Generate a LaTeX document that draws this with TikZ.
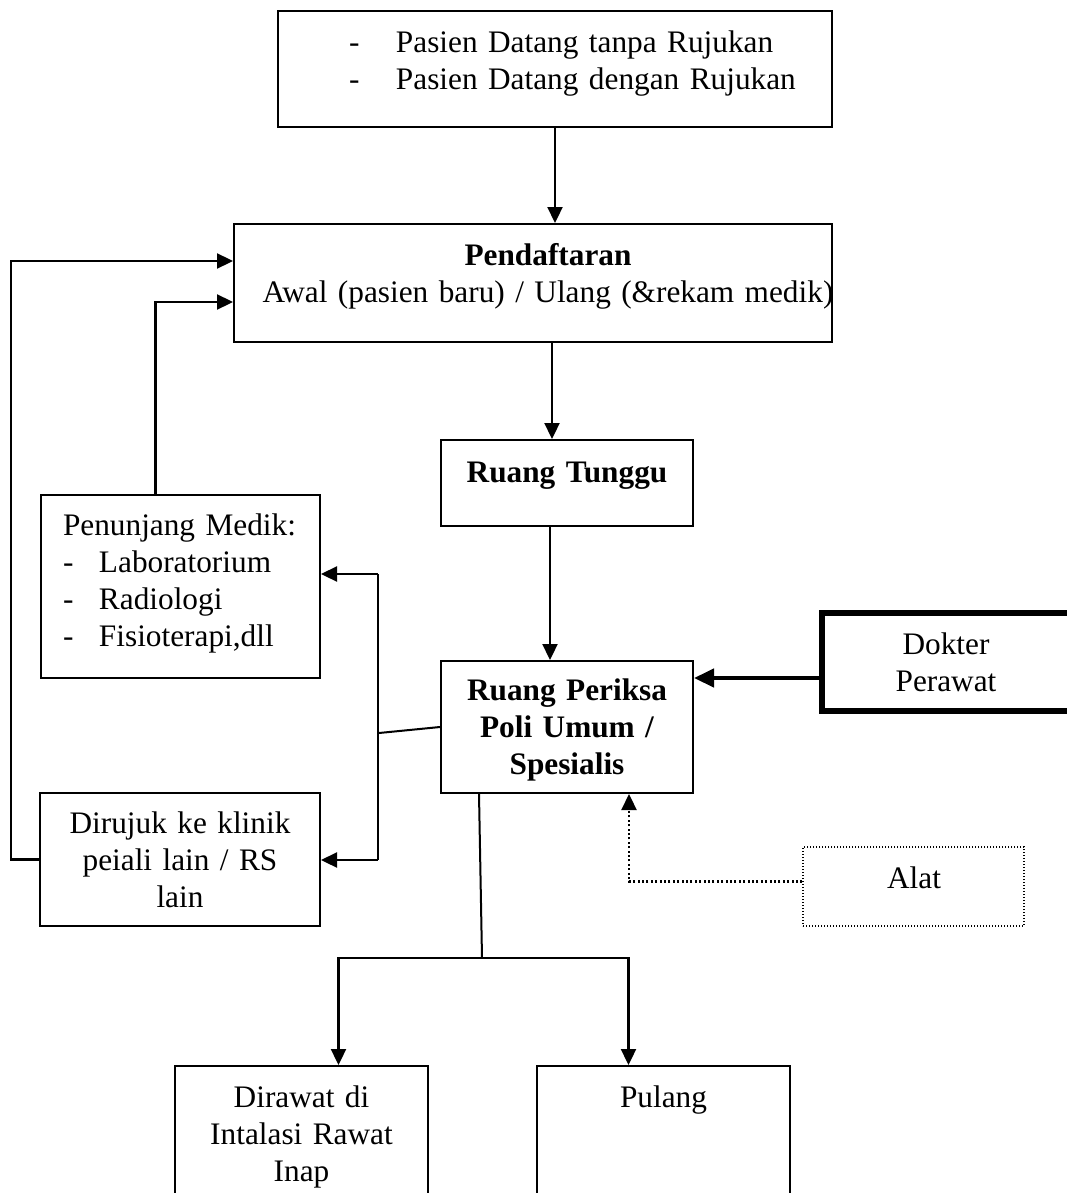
\documentclass[tikz,border=0pt]{standalone}
\usepackage{fontspec}
\setmainfont{Liberation Serif}
\usetikzlibrary{arrows.meta}

\begin{document}
\begin{tikzpicture}[x=1pt, y=-1pt, line width=2pt,
    font=\fontsize{31.3}{37}\selectfont,
    box/.style = {draw, rectangle, inner sep=0pt},
    txt/.style = {inner sep=0pt, text width=620pt, align=center, anchor=base},
    list/.style = {inner sep=0pt, text width=460pt, align=left, anchor=base west},
    arr/.style = {line width=2.3pt, -{Triangle[length=16pt, width=15pt]}},
    dot/.style = {dash pattern=on 2pt off 2.4pt}]

    \useasboundingbox (0,0) rectangle (1067,1193);
    \clip (0,0) rectangle (1067,1193);

    % kotak
    \node at (555, 69) [box, minimum width=554pt, minimum height=116pt] (datang) {};
    \node at (533, 283) [box, minimum width=598pt, minimum height=118pt] (daftar) {};
    \node at (567, 483) [box, minimum width=252pt, minimum height=86pt] (tunggu) {};
    \node at (567, 727) [box, minimum width=252pt, minimum height=132pt] (periksa) {};
    \node at (961, 662) [box, line width=6pt, minimum width=278pt, minimum height=98pt] (dokter) {};
    \node at (913.5, 886.5) [box, line width=1.2pt, dash pattern=on 1.2pt off 1.8pt, minimum width=221pt, minimum height=79pt] (alat) {};
    \node at (180.5, 586.5) [box, minimum width=279pt, minimum height=183pt] (penunjang) {};
    \node at (180, 859.5) [box, minimum width=280pt, minimum height=133pt] (rujuk) {};
    \node at (301.5, 1166) [box, minimum width=253pt, minimum height=200pt] (rawat) {};
    \node at (663.5, 1166) [box, minimum width=253pt, minimum height=200pt] (pulang) {};

    % teks
    \node at (348, 53) [list] (datangtxt) {\makebox[47pt][l]{-}Pasien Datang tanpa Rujukan\\ \makebox[47pt][l]{-}Pasien Datang dengan Rujukan};
    \node at (548, 265) [txt] (daftartxt) {\textbf{Pendaftaran}\\ Awal (pasien baru) / Ulang (\&rekam medik)};
    \node at (567, 482) [txt] (tunggutxt) {\textbf{Ruang Tunggu}};
    \node at (567, 700) [txt, font=\fontsize{31.3}{37}\selectfont\bfseries] (periksatxt) {Ruang Periksa\\ Poli Umum /\\ Spesialis};
    \node at (946, 654) [txt] (doktertxt) {Dokter\\ Perawat};
    \node at (914, 888) [txt] (alattxt) {Alat};
    \node at (62, 535) [list] (penunjangtxt) {Penunjang Medik:\\ \makebox[36pt][l]{-}Laboratorium\\ \makebox[36pt][l]{-}Radiologi\\ \makebox[36pt][l]{-}Fisioterapi,dll};
    \node at (180, 833) [txt] (rujuktxt) {Dirujuk ke klinik\\ peiali lain / RS\\ lain};
    \node at (301.5, 1107) [txt] (rawattxt) {Dirawat di\\ Intalasi Rawat\\ Inap};
    \node at (663.5, 1107) [txt] (pulangtxt) {Pulang};

    % alur utama
    \draw[arr] (datang.south) -- (datang.south |- daftar.north);
    \draw[arr] ([xshift=19pt]daftar.south) -- ([xshift=19pt]daftar.south |- tunggu.north);
    \draw[arr] ([xshift=-17pt]tunggu.south) -- ([xshift=-17pt]tunggu.south |- periksa.north);
    \draw[-{Triangle[length=20pt, width=18pt]}, line width=4.5pt] ([yshift=-16pt]dokter.west) -- ([yshift=-16pt]dokter.west -| periksa.east);
    \draw[arr, dot] ([yshift=5pt]alat.west) -| ([xshift=62pt]periksa.south);

    % rujukan ke kiri
    \coordinate (split) at (379, 733);
    \coordinate (brtop) at (378, 574);
    \coordinate (brbot) at (378, 860);
    \draw (periksa.west) -- (split);
    \draw (brtop) -- (brbot);
    \draw[arr] (brtop) -- (brtop -| penunjang.east);
    \draw[arr] (brbot) -- (brbot -| rujuk.east);
    \draw[arr] ([xshift=-25pt]penunjang.north) |- ([yshift=-19pt]daftar.west);
    \draw[arr] (rujuk.west) -- ++(-28,0) |- ([yshift=22pt]daftar.west);

    % keluar
    \coordinate (fork) at (482, 958);
    \draw ([xshift=-88pt]periksa.south) -- (fork);
    \draw[arr] (fork) -| ([xshift=37pt]rawat.north);
    \draw[arr] (fork) -| ([xshift=-35pt]pulang.north);
\end{tikzpicture}
\end{document}
